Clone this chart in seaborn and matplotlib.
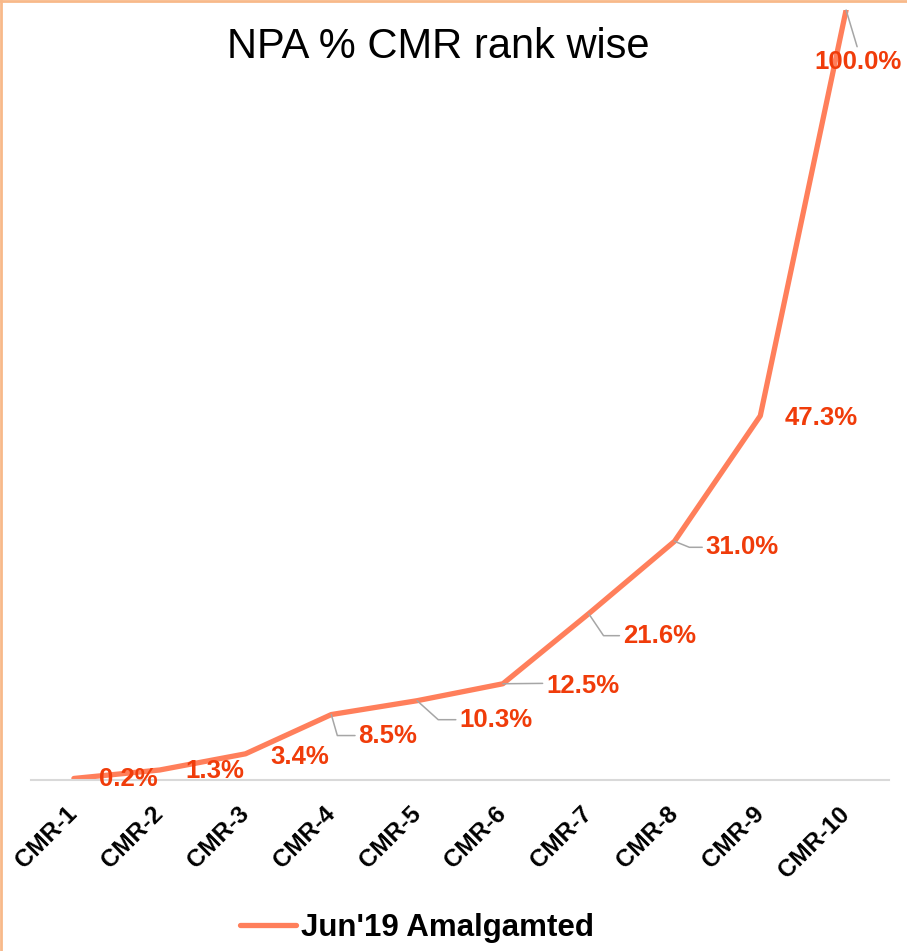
import pandas as pd
import matplotlib.pyplot as plt
import seaborn as sns
from matplotlib.lines import Line2D

# dados do grafico
categorias = ['CMR-1', 'CMR-2', 'CMR-3', 'CMR-4', 'CMR-5',
              'CMR-6', 'CMR-7', 'CMR-8', 'CMR-9', 'CMR-10']
npa_pct = [0.2, 1.3, 3.4, 8.5, 10.3, 12.5, 21.6, 31.0, 47.3, 100.0]
serie = "Jun'19 Amalgamted"

# posicao dos rotulos (offset em pixels) e estilo da linha guia
rotulo_offset = [(54, -1, 'center'), (55, -1, 'center'), (54, -3, 'center'),
                 (27, -21, 'left'), (42, -19, 'left'), (43, -2, 'left'),
                 (34, -22, 'left'), (31, -6, 'left'), (24, -2, 'left'),
                 (12, -52, 'center')]
guia = [None, None, None, -74, -42, 'reta', -56, -22, None, 'topo']

df = pd.DataFrame({'CMR': categorias, 'NPA': npa_pct})

sns.set_style('white')
plt.rcParams['font.family'] = ['Liberation Sans', 'DejaVu Sans']
plt.rcParams['text.color'] = 'black'
plt.rcParams['xtick.color'] = 'black'

fig = plt.figure(figsize=(9.07, 9.51), dpi=100)
ax = fig.add_axes([31 / 907, 1 - 780 / 951, (889 - 31) / 907, 770 / 951])

sns.lineplot(data=df, x='CMR', y='NPA', sort=False, color='#FF7F5B',
             linewidth=3.8, label=serie, ax=ax)

ax.set_xlim(-0.5, len(categorias) - 0.5)
ax.set_ylim(0, 100)
ax.set_xlabel('')
ax.set_ylabel('')
ax.set_yticks([])
for lado in ['left', 'right', 'top']:
    ax.spines[lado].set_visible(False)
ax.spines['bottom'].set_color('#D9D9D9')
ax.spines['bottom'].set_linewidth(1.5)
ax.tick_params(axis='x', length=0, pad=22, colors='black')
ax.set_xticks(range(len(categorias)))
ax.set_xticklabels(categorias, rotation=45, ha='right', va='center',
                   rotation_mode='anchor', fontsize=17.5, fontweight='bold',
                   color='black')

# rotulos de dados
for i, v in enumerate(npa_pct):
    dx, dy, ha = rotulo_offset[i]
    g = guia[i]
    seta = None
    relpos = (0, 0.5)
    if g == 'reta':
        seta = dict(arrowstyle='-', color='#A6A6A6', lw=1.1,
                    shrinkA=0, shrinkB=0)
        relpos = (0, 0.6)
    elif g == 'topo':
        seta = dict(arrowstyle='-', color='#A6A6A6', lw=1.1,
                    shrinkA=0, shrinkB=0)
        relpos = (0.5, 1)
    elif g is not None:
        seta = dict(arrowstyle='-', color='#A6A6A6', lw=1.1,
                    shrinkA=0, shrinkB=0,
                    connectionstyle=f'angle,angleA=0,angleB={g},rad=0')
    if seta is not None:
        seta['relpos'] = relpos
    ax.annotate(f'{v:.1f}%', xy=(i, v), xytext=(dx, dy),
                textcoords='offset pixels', ha=ha, va='center',
                fontsize=18.5, fontweight='bold', color='#F03C0A',
                arrowprops=seta, annotation_clip=False, zorder=5)

fig.text(438 / 907, 1 - 47 / 951, 'NPA % CMR rank wise', ha='center',
         va='center', fontsize=30, color='black')

leg = ax.legend(loc='center', bbox_to_anchor=(417 / 907, 1 - 928 / 951),
                bbox_transform=fig.transFigure, frameon=False,
                prop={'size': 22.5, 'weight': 'bold'}, handlelength=1.8,
                handletextpad=0.15)
for t in leg.get_texts():
    t.set_color('black')

# borda laranja (esquerda e topo)
fig.add_artist(Line2D([0.001, 0.001], [0, 1], color='#F8B98A', lw=2,
                      transform=fig.transFigure))
fig.add_artist(Line2D([0, 1], [0.999, 0.999], color='#F8B98A', lw=2,
                      transform=fig.transFigure))

fig.savefig('out.png', dpi=100)
